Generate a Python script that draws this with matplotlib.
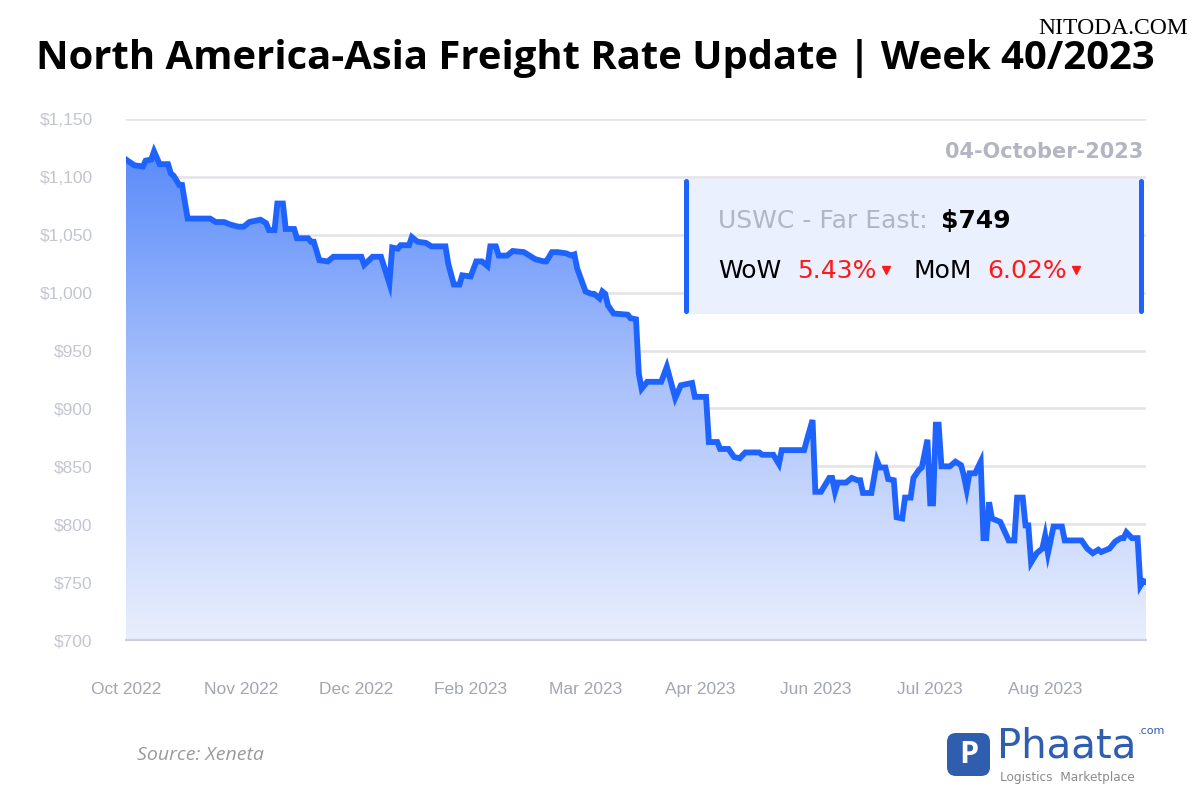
import numpy as np
import matplotlib
matplotlib.use('Agg')
import matplotlib.pyplot as plt
from matplotlib.colors import LinearSegmentedColormap
from matplotlib.patches import FancyBboxPatch

# data: days since start of chart (Oct 2022) and freight rate in USD
days = [0, 3, 6, 7, 9, 10, 12, 15, 16, 17, 19, 20, 22, 30, 32, 35, 37, 40, 42, 44,
        48, 50, 51, 53, 54, 56, 57, 60, 61, 65, 66, 67, 69, 72, 74, 84, 85, 88, 90,
        91, 94, 95, 97, 98, 101, 102, 104, 107, 109, 114, 115, 117, 119, 120, 123,
        125, 127, 129, 130, 132, 133, 136, 138, 142, 144, 146, 149, 150, 152, 154,
        157, 159, 160, 161, 164, 166, 167, 169, 170, 171, 172, 174, 179, 180, 182,
        183, 184, 186, 191, 193, 196, 198, 202, 203, 207, 208, 211, 212, 215, 217,
        219, 221, 226, 227, 231, 233, 234, 242, 243, 245, 246, 248, 251, 252, 253,
        254, 257, 259, 261, 262, 263, 266, 268, 269, 271, 272, 274, 275, 277, 278,
        280, 281, 283, 284, 286, 287, 288, 289, 290, 291, 294, 296, 298, 299, 300,
        301, 303, 305, 306, 307, 308, 309, 312, 315, 317, 318, 320, 321, 322, 323,
        325, 327, 328, 329, 331, 334, 335, 339, 341, 343, 345, 347, 348, 351, 353,
        355, 356, 357, 359, 361, 362, 363, 364]
rates = [1115, 1110, 1109, 1114, 1115, 1122, 1111, 1111, 1103, 1101, 1093, 1093, 1064,
         1064, 1061, 1061, 1059, 1057, 1057, 1061, 1063, 1060, 1054, 1054, 1077, 1077,
         1055, 1055, 1047, 1047, 1044, 1044, 1028, 1027, 1031, 1031, 1024, 1031, 1031,
         1031, 1008, 1039, 1038, 1041, 1041, 1048, 1044, 1043, 1040, 1040, 1025, 1007,
         1007, 1015, 1014, 1027, 1027, 1023, 1040, 1040, 1032, 1032, 1036, 1035, 1032,
         1029, 1027, 1027, 1035, 1035, 1034, 1032, 1033, 1021, 1001, 999, 999, 995,
         1001, 999, 989, 982, 981, 978, 977, 930, 917, 923, 923, 936, 909, 920, 922,
         910, 910, 871, 871, 865, 865, 858, 857, 862, 862, 860, 860, 852, 864, 864,
         873, 890, 828, 828, 840, 840, 828, 836, 836, 840, 838, 838, 827, 827, 855,
         849, 849, 839, 838, 806, 805, 823, 823, 840, 847, 849, 873, 818, 818, 886,
         886, 850, 850, 854, 851, 842, 830, 844, 844, 854, 788, 788, 819, 805, 802,
         786, 786, 823, 823, 799, 799, 767, 775, 779, 790, 775, 798, 798, 786, 786,
         786, 779, 775, 778, 776, 779, 785, 788, 788, 793, 788, 788, 747, 751, 750]

tick_days = [0, 41, 82, 123, 164, 205, 246, 287, 328]
tick_labels = ['Oct 2022', 'Nov 2022', 'Dec 2022', 'Feb 2023', 'Mar 2023',
               'Apr 2023', 'Jun 2023', 'Jul 2023', 'Aug 2023']
y_ticks = [700, 750, 800, 850, 900, 950, 1000, 1050, 1100, 1150]

fig = plt.figure(figsize=(12, 8), dpi=100)
ax = fig.add_axes([0.105, 0.2, 0.85, 0.65125])
ax.set_xlim(0, 364)
ax.set_ylim(700, 1150)

# gradient area under the line
cmap = LinearSegmentedColormap.from_list('grad', ['#e8eefd', '#a9c1fb', '#4f84fa'])
grad = np.linspace(0, 1, 256).reshape(-1, 1)
im = ax.imshow(grad, extent=[0, 364, 700, 1150], origin='lower', aspect='auto',
               cmap=cmap, zorder=1)
poly = ax.fill_between(days, rates, 700, color='none', lw=0)
im.set_clip_path(poly.get_paths()[0], transform=ax.transData)

ax.plot(days, rates, color='#1f63ff', lw=4.2, zorder=3, solid_joinstyle='miter')

ax.set_yticks(y_ticks)
ax.set_yticklabels(['$' + format(v, ',') for v in y_ticks])
ax.set_xticks(tick_days)
ax.set_xticklabels(tick_labels)
ax.tick_params(axis='both', length=0, labelsize=12.5)
ax.tick_params(axis='x', pad=30, labelcolor='#a2a5b3')
ax.tick_params(axis='y', pad=24, labelcolor='#c3c6cf')
for lbl in ax.get_xticklabels() + ax.get_yticklabels():
    lbl.set_family('Liberation Sans')
ax.grid(axis='y', color='#e3e3e8', lw=1.8, zorder=0)
ax.set_axisbelow(True)
for s in ['top', 'right', 'left']:
    ax.spines[s].set_visible(False)
ax.spines['bottom'].set_color('#cdd0d8')
ax.spines['bottom'].set_linewidth(1.5)

# overlay in pixel coordinates for titles, box and logo
ov = fig.add_axes([0, 0, 1, 1], zorder=5)
ov.set_xlim(0, 1200)
ov.set_ylim(800, 0)
ov.axis('off')

ov.text(36, 59, 'North America-Asia Freight Rate Update | Week 40/2023', fontsize=28.8,
        fontweight='bold', family='Open Sans', color='black', va='center', ha='left')
ov.text(1188, 28, 'NITODA.COM', fontsize=17, family='Liberation Serif', color='black',
        va='center', ha='right')

ov.text(1143, 152, '04-October-2023', fontsize=15, fontweight='bold', family='DejaVu Sans',
        color='#b3b6c2', va='center', ha='right')

box = FancyBboxPatch((686, 179), 456, 135, boxstyle='round,pad=0,rounding_size=4',
                     facecolor='#ebf0fe', edgecolor='none')
ov.add_patch(box)
ov.add_patch(FancyBboxPatch((684, 179), 5, 135, boxstyle='round,pad=0,rounding_size=2.5',
                            facecolor='#1f63ff', edgecolor='none'))
ov.add_patch(FancyBboxPatch((1139, 179), 5, 135, boxstyle='round,pad=0,rounding_size=2.5',
                            facecolor='#1f63ff', edgecolor='none'))

box_font = dict(fontsize=18, family='DejaVu Sans', va='center', ha='left')
ov.text(718, 221, 'USWC - Far East:', color='#b3b6c2', **box_font)
ov.text(941, 221, '$749', color='black', fontweight='bold', **box_font)
ov.text(718, 271, 'WoW', color='black', **box_font)
ov.text(797, 271, '5.43%', color='#ff1a1a', **box_font)
ov.plot([886], [270], marker='v', color='#ff1a1a', markersize=6)
ov.text(914, 271, 'MoM', color='black', **box_font)
ov.text(987, 271, '6.02%', color='#ff1a1a', **box_font)
ov.plot([1076], [270], marker='v', color='#ff1a1a', markersize=6)

ov.text(137, 755, 'Source: Xeneta', fontsize=14, style='italic', family='Open Sans',
        color='#9a9a9a', va='center', ha='left')

# logo
ov.add_patch(FancyBboxPatch((947, 733), 43, 43, boxstyle='round,pad=0,rounding_size=9',
                            facecolor='#2f5eae', edgecolor='none'))
ov.text(968.5, 755, 'P', fontsize=22, fontweight='bold', family='Open Sans', color='white',
        va='center', ha='center')
ov.text(997, 746, 'Phaata', fontsize=29, family='DejaVu Sans', color='#2f5eae',
        va='center', ha='left')
ov.text(1138, 731, '.com', fontsize=8, family='DejaVu Sans', color='#2f5eae',
        va='center', ha='left')
ov.text(1000, 777, 'Logistics  Marketplace', fontsize=8.7, family='DejaVu Sans', color='#8a8a8a',
        va='center', ha='left')

fig.savefig('out.png', dpi=100, facecolor='white')
